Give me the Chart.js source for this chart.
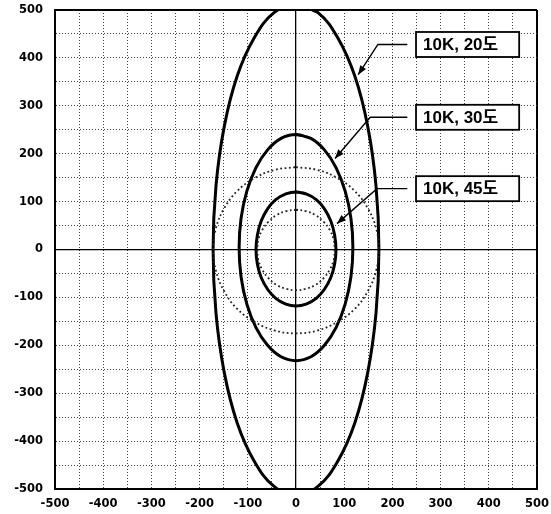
<!DOCTYPE html>
<html>
<head>
<meta charset="utf-8">
<script src="https://cdn.jsdelivr.net/npm/chart.js@4"></script>
<style>
  html, body { margin: 0; padding: 0; background: #fff; }
  #wrap { width: 551px; height: 514px; }
</style>
</head>
<body>
<div id="wrap"><canvas id="chart"></canvas></div>
<script>
// ── Data ───────────────────────────────────────────────────────────────────
// each closed curve repeats its second point at the end so the join is smooth
// 10K, 20도 — tall ellipse, clipped by the top/bottom frame
const curve20X = [0, 45, 86, 122, 149, 166, 172, 166, 149, 122, 86, 45, 0, -45, -86, -122, -149, -166, -172, -166, -149, -122, -86, -45, 0, 45];
const curve20Y = [512, 495, 443, 362, 256, 133, 0, -133, -256, -362, -443, -495, -512, -495, -443, -362, -256, -133, 0, 133, 256, 362, 443, 495, 512, 495];

// 10K, 30도
const curve30X = [0, 31, 59, 83, 102, 114, 118, 114, 102, 83, 59, 31, 0, -31, -59, -83, -102, -114, -118, -114, -102, -83, -59, -31, 0, 31];
const curve30Y = [240, 232, 208, 171, 122, 65, 4, -57, -114, -163, -200, -224, -232, -224, -200, -163, -114, -57, 4, 65, 122, 171, 208, 232, 240, 232];

// 10K, 45도
const curve45X = [0, 21, 42, 59, 72, 80, 83, 80, 72, 59, 42, 21, 0, -21, -42, -59, -72, -80, -83, -80, -72, -59, -42, -21, 0, 21];
const curve45Y = [120, 116, 104, 85, 60, 31, 0, -31, -59, -83, -102, -114, -118, -114, -102, -83, -59, -31, 0, 31, 60, 85, 104, 116, 120, 116];

// dotted reference circles
const bigCircleX = [0, 45, 86, 122, 149, 166, 172, 166, 149, 122, 86, 45, 0, -45, -86, -122, -149, -166, -172, -166, -149, -122, -86, -45, 0];
const bigCircleY = [172, 166, 149, 122, 86, 45, 0, -45, -87, -124, -151, -169, -175, -169, -151, -124, -87, -45, 0, 45, 86, 122, 149, 166, 172];
const smallCircleX = [0, 21, 40, 57, 70, 78, 80, 78, 70, 57, 40, 21, 0, -21, -40, -57, -70, -78, -80, -78, -70, -57, -40, -21, 0];
const smallCircleY = [83, 80, 72, 58, 41, 21, 0, -22, -42, -60, -74, -82, -85, -82, -74, -60, -42, -22, 0, 21, 41, 58, 72, 80, 83];

// callout labels (data units): label row height, leader bend and arrow tip
const calloutLabels = ['10K, 20도', '10K, 30도', '10K, 45도'];
const calloutRowY   = [428, 276, 127];
const calloutBendX  = [170, 154, 168];
const calloutTipX   = [129, 81, 85];
const calloutTipY   = [365, 190, 54];

const AXIS_MIN = -500;
const AXIS_MAX = 500;

// ── Helpers ────────────────────────────────────────────────────────────────
function toPoints(xs, ys) {
  return xs.map((x, i) => ({ x, y: ys[i] }));
}

function solidCurve(xs, ys) {
  return {
    data: toPoints(xs, ys),
    showLine: true,
    borderColor: '#000',
    borderWidth: 3,
    pointRadius: 0,
    tension: 0.4,
    fill: false,
  };
}

function dottedCurve(xs, ys) {
  return {
    data: toPoints(xs, ys),
    showLine: true,
    borderColor: '#222',
    borderWidth: 1.8,
    borderDash: [1.8, 2.6],
    pointRadius: 0,
    tension: 0.4,
    fill: false,
  };
}

// grid: dotted every 50, solid through 0 and at the frame
function gridColor(ctx) {
  const v = ctx.tick ? ctx.tick.value : null;
  if (v === 0 || v === AXIS_MIN || v === AXIS_MAX) return '#000';
  return '#444';
}
function gridWidth(ctx) {
  const v = ctx.tick ? ctx.tick.value : null;
  if (v === AXIS_MIN || v === AXIS_MAX) return 2;
  if (v === 0) return 1.3;
  return 1;
}
function gridDash(ctx) {
  const v = ctx.tick ? ctx.tick.value : null;
  if (v === 0 || v === AXIS_MIN || v === AXIS_MAX) return [];
  return [1, 2];
}

const tickFont = { family: '"DejaVu Sans", sans-serif', weight: 'bold', size: 11.5 };

// ── Callout plugin ─────────────────────────────────────────────────────────
const calloutPlugin = {
  id: 'callouts',
  afterDatasetsDraw(chart) {
    const { ctx, scales: { x, y } } = chart;
    ctx.save();
    ctx.font = 'bold 17px "Liberation Sans", "Noto Sans CJK KR", sans-serif';
    ctx.textBaseline = 'middle';
    calloutLabels.forEach((label, i) => {
      const cy = y.getPixelForValue(calloutRowY[i]);
      const boxL = x.getPixelForValue(249);
      const boxR = x.getPixelForValue(463);
      const startX = x.getPixelForValue(231);
      const bendX = x.getPixelForValue(calloutBendX[i]);
      const tipX = x.getPixelForValue(calloutTipX[i]);
      const tipY = y.getPixelForValue(calloutTipY[i]);

      // box
      ctx.fillStyle = '#fff';
      ctx.fillRect(boxL, cy - 12.5, boxR - boxL, 25);
      ctx.strokeStyle = '#000';
      ctx.lineWidth = 1.8;
      ctx.strokeRect(boxL, cy - 12.5, boxR - boxL, 25);
      ctx.fillStyle = '#000';
      ctx.fillText(label, boxL + 7, cy + 1);

      // leader
      ctx.lineWidth = 1.4;
      ctx.beginPath();
      ctx.moveTo(startX, cy);
      ctx.lineTo(bendX, cy);
      ctx.lineTo(tipX, tipY);
      ctx.stroke();

      // arrow head
      const ang = Math.atan2(tipY - cy, tipX - bendX);
      const len = 9, half = 3.5;
      ctx.beginPath();
      ctx.moveTo(tipX, tipY);
      ctx.lineTo(tipX - len * Math.cos(ang) + half * Math.sin(ang),
                 tipY - len * Math.sin(ang) - half * Math.cos(ang));
      ctx.lineTo(tipX - len * Math.cos(ang) - half * Math.sin(ang),
                 tipY - len * Math.sin(ang) + half * Math.cos(ang));
      ctx.closePath();
      ctx.fill();
    });
    ctx.restore();
  },
};

// ── Chart ──────────────────────────────────────────────────────────────────
new Chart(document.getElementById('chart'), {
  type: 'scatter',
  data: {
    datasets: [
      dottedCurve(bigCircleX, bigCircleY),
      dottedCurve(smallCircleX, smallCircleY),
      solidCurve(curve20X, curve20Y),
      solidCurve(curve30X, curve30Y),
      solidCurve(curve45X, curve45Y),
    ],
  },
  options: {
    responsive: true,
    maintainAspectRatio: false,
    animation: false,
    layout: { padding: { left: 0, top: 10, right: 14, bottom: 0 } },
    plugins: {
      legend: { display: false },
      tooltip: { enabled: false },
    },
    scales: {
      x: {
        type: 'linear',
        min: AXIS_MIN,
        max: AXIS_MAX,
        afterFit: s => { s.height = 25; },
        ticks: {
          stepSize: 50,
          autoSkip: false,
          maxRotation: 0,
          padding: 0,
          color: '#000',
          font: tickFont,
          callback: v => (v % 100 === 0 ? String(v) : ''),
        },
        // invisible tick marks give the label gap without padding the corners
        grid: { color: gridColor, lineWidth: gridWidth, drawTicks: true, tickLength: 8, tickColor: 'rgba(0,0,0,0)' },
        border: { display: true, color: '#000', width: 2, dash: gridDash },
      },
      y: {
        type: 'linear',
        min: AXIS_MIN,
        max: AXIS_MAX,
        afterFit: s => { s.width = 55; },
        ticks: {
          stepSize: 50,
          autoSkip: false,
          padding: 0,
          color: '#000',
          font: tickFont,
          callback: v => (v % 100 === 0 ? String(v) : ''),
        },
        grid: { color: gridColor, lineWidth: gridWidth, drawTicks: true, tickLength: 12, tickColor: 'rgba(0,0,0,0)' },
        border: { display: true, color: '#000', width: 2, dash: gridDash },
      },
    },
  },
  plugins: [calloutPlugin],
});
</script>
</body>
</html>
